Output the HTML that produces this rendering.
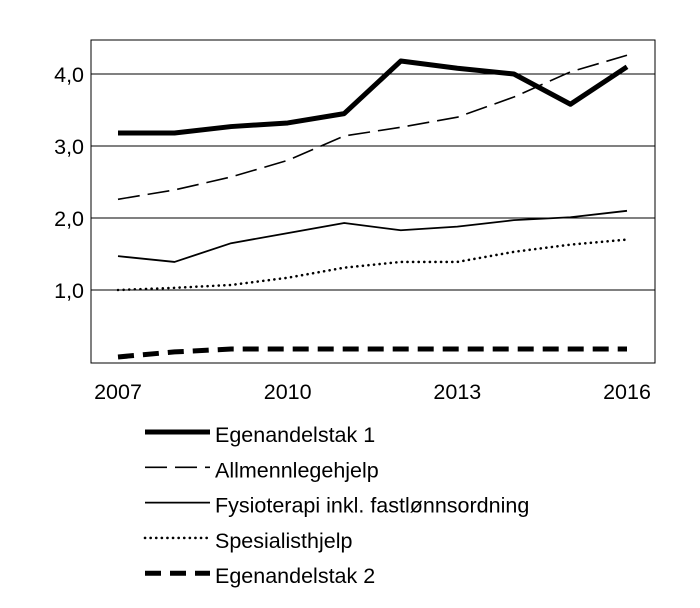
<!DOCTYPE html>
<html><head><meta charset="utf-8"><style>
body{margin:0;background:#fff;}
svg text{font-family:"Liberation Sans",sans-serif;fill:#000;}
</style></head><body>
<svg id="chart" width="700" height="603" xmlns="http://www.w3.org/2000/svg"></svg>
<script>
const years=[2007,2008,2009,2010,2011,2012,2013,2014,2015,2016];
const egenandelstak1=[3.18,3.18,3.27,3.32,3.45,4.18,4.08,4.0,3.58,4.1];
const allmennlege=[2.26,2.39,2.57,2.8,3.14,3.26,3.4,3.68,4.03,4.26];
const fysioterapi=[1.47,1.39,1.65,1.79,1.93,1.83,1.88,1.97,2.01,2.1];
const spesialist=[1.0,1.03,1.07,1.17,1.31,1.39,1.39,1.53,1.63,1.7];
const egenandelstak2=[0.07,0.14,0.18,0.18,0.18,0.18,0.18,0.18,0.18,0.18];
const yTicks=[1,2,3,4];
const yTickLabels=["1,0","2,0","3,0","4,0"];
const xTicks=[2007,2010,2013,2016];
const seriesNames=["Egenandelstak 1","Allmennlegehjelp","Fysioterapi inkl. fastlønnsordning","Spesialisthjelp","Egenandelstak 2"];

const NS="http://www.w3.org/2000/svg";
const svg=document.getElementById('chart');
const L=91,R=655,T=40,B=363;
const FS=21.5;
const x=v=>118+(v-2007)*(627-118)/9;
const y=v=>362-v*72;
function mk(tag,attrs,parent){const e=document.createElementNS(NS,tag);for(const k in attrs)e.setAttribute(k,attrs[k]);(parent||svg).appendChild(e);return e;}

yTicks.forEach((t,i)=>{
  const g=mk('line',{x1:L,x2:R,y1:y(t),y2:y(t),stroke:'#000','stroke-width':1});
  
  
  const tx=mk('text',{x:L-7,y:y(t)+8,'text-anchor':'end','font-size':FS});
  tx.textContent=yTickLabels[i];
  
  
});
const frame=mk('rect',{x:L,y:T,width:R-L,height:B-T,fill:'none',stroke:'#000','stroke-width':1});


xTicks.forEach(t=>{
  const tx=mk('text',{x:x(t),y:399,'text-anchor':'middle','font-size':FS});
  tx.textContent=t;
  
  
});
const styles=[
  {w:5,d:'none',cap:'butt'},
  {w:1.6,d:'22 8',cap:'butt'},
  {w:1.8,d:'none',cap:'butt'},
  {w:2.6,d:'0.1 5.5',cap:'round'},
  {w:5,d:'16 9',cap:'butt'}
];
const data=[egenandelstak1,allmennlege,fysioterapi,spesialist,egenandelstak2];
data.forEach((s,i)=>{
  const p=mk('polyline',{points:s.map((v,j)=>x(years[j])+','+y(v)).join(' '),fill:'none',stroke:'#000','stroke-width':styles[i].w,'stroke-dasharray':styles[i].d,'stroke-linecap':styles[i].cap,'stroke-linejoin':'round'});
  
  
  const ly=432+i*35.3;
  const ll=mk('line',{x1:145,x2:210,y1:ly,y2:ly,stroke:'#000','stroke-width':styles[i].w,'stroke-dasharray':styles[i].d,'stroke-linecap':styles[i].cap});
  
  
  const lt=mk('text',{x:215,y:ly+10,'font-size':FS});
  lt.textContent=seriesNames[i];
  
  
});
</script>
</body></html>
